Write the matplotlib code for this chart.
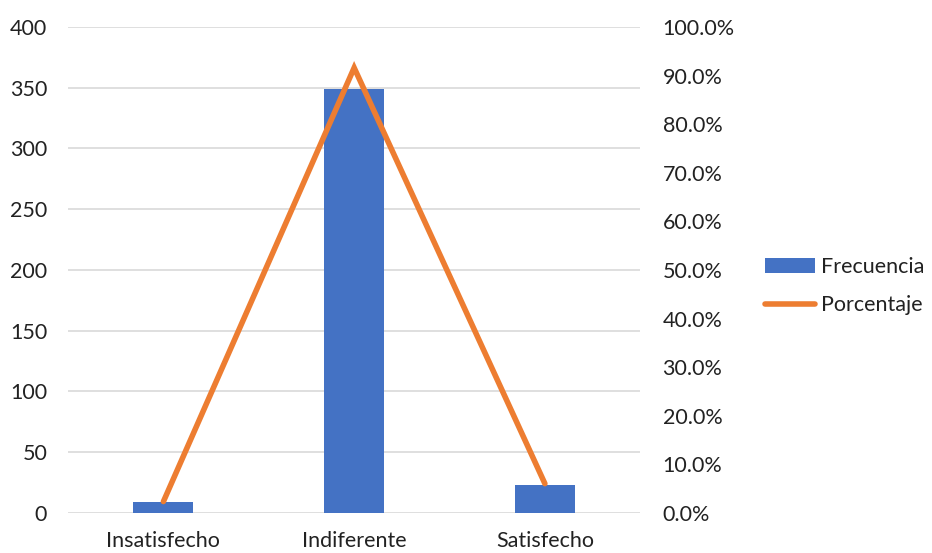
import matplotlib
matplotlib.use("Agg")
import matplotlib.pyplot as plt
from matplotlib.ticker import FuncFormatter, MultipleLocator

plt.rcParams['font.family'] = ['Lato', 'DejaVu Sans']

# datos
categorias = ['Insatisfecho', 'Indiferente', 'Satisfecho']
frecuencia = [9, 349, 23]
porcentaje = [0.0236, 0.916, 0.0604]

fig = plt.figure(figsize=(9.32, 5.53), dpi=100)
ax1 = fig.add_axes([0.073, 0.0723, 0.614, 0.879])
ax2 = ax1.twinx()

x = range(len(categorias))
ax1.bar(x, frecuencia, width=0.315, color='#4472C4', label='Frecuencia', zorder=3)
ax2.plot(x, porcentaje, color='#ED7D31', linewidth=4, label='Porcentaje',
         solid_capstyle='round', solid_joinstyle='miter', zorder=4)

ax1.set_xlim(-0.5, 2.5)
ax1.set_ylim(0, 400)
ax2.set_ylim(0, 1.0)
ax1.yaxis.set_major_locator(MultipleLocator(50))
ax2.yaxis.set_major_locator(MultipleLocator(0.1))
ax2.yaxis.set_major_formatter(FuncFormatter(lambda v, p: f'{v*100:.1f}%'))

ax1.set_xticks(list(x))
ax1.set_xticklabels(categorias)
ax1.grid(axis='y', color='#D9D9D9', linewidth=1.2, zorder=0)

fs = 15.5
for ax in (ax1, ax2):
    for s in ax.spines.values():
        s.set_visible(False)
    ax.tick_params(length=0, labelsize=fs, colors='#222222')
ax1.tick_params(axis='y', pad=15)
ax1.tick_params(axis='x', pad=13)
ax2.tick_params(axis='y', pad=16)

# leyenda
h1, l1 = ax1.get_legend_handles_labels()
h2, l2 = ax2.get_legend_handles_labels()
fig.legend(h1 + h2, l1 + l2, loc='center left', bbox_to_anchor=(0.821, 0.483),
           frameon=False, fontsize=fs, handlelength=2.3, handletextpad=0.3,
           labelspacing=0.85, borderpad=0, borderaxespad=0, labelcolor='#222222')

fig.savefig('out.png', dpi=100)
